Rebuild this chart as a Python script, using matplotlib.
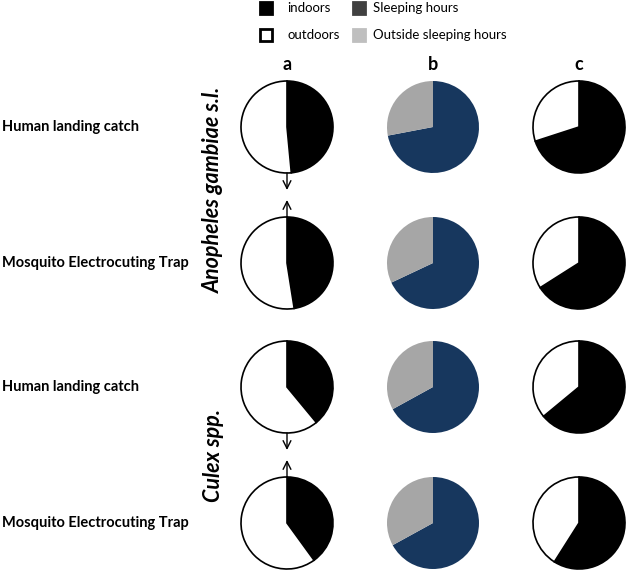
import matplotlib
matplotlib.use("Agg")
import matplotlib.pyplot as plt
from matplotlib.patches import Rectangle

plt.rcParams['font.family'] = ['Lato', 'DejaVu Sans']

# percentages
methods = ["Human landing catch", "Mosquito Electrocuting Trap",
           "Human landing catch", "Mosquito Electrocuting Trap"]
species = ["Anopheles gambiae s.l.", "Culex spp."]
indoor_a = [48.5, 47.5, 39, 40]        # a: indoors (rest outdoors)
sleeping_b = [72, 68, 67, 67]          # b: during sleeping hours
indoor_c = [70, 66, 64, 59]            # c: indoors during sleeping hours
col_labels = ["a", "b", "c"]

W, H = 638, 577
fig = plt.figure(figsize=(W / 100, H / 100), dpi=100)
ax = fig.add_axes([0, 0, 1, 1])
ax.set_xlim(0, W)
ax.set_ylim(0, H)
ax.axis('off')


def Y(y):
    return H - y


col_x = [287, 433, 579]
row_y = [127, 263, 387, 523]
r = 46

for i in range(4):
    cy = Y(row_y[i])
    ax.pie([indoor_a[i], 100 - indoor_a[i]], colors=['black', 'white'],
           startangle=90, counterclock=False, center=(col_x[0], cy), radius=r,
           frame=True, wedgeprops=dict(edgecolor='black', linewidth=1.2))
    ax.pie([sleeping_b[i], 100 - sleeping_b[i]], colors=['#17375e', '#a6a6a6'],
           startangle=90, counterclock=False, center=(col_x[1], cy), radius=r,
           frame=True, wedgeprops=dict(linewidth=0))
    ax.pie([indoor_c[i], 100 - indoor_c[i]], colors=['black', 'white'],
           startangle=90, counterclock=False, center=(col_x[2], cy), radius=r,
           frame=True, wedgeprops=dict(edgecolor='black', linewidth=1.2))
    ax.text(2, cy, methods[i], fontsize=10.5, fontweight='bold', va='center', ha='left')

ax.set_xlim(0, W)
ax.set_ylim(0, H)
ax.set_aspect('auto')

for x, lab in zip(col_x, col_labels):
    ax.text(x, Y(64), lab, fontsize=13, fontweight='bold', ha='center', va='center')

# species labels
ax.text(213, Y(190), species[0], fontsize=15.5, fontweight='bold', style='italic',
        rotation=90, ha='center', va='center')
ax.text(213, Y(455), species[1], fontsize=15.5, fontweight='bold', style='italic',
        rotation=90, ha='center', va='center')

# arrows linking the two trapping methods
for top, bot in [(row_y[0], row_y[1]), (row_y[2], row_y[3])]:
    y1 = Y(top + r)
    y2 = Y(bot - r)
    mid = (y1 + y2) / 2
    ax.annotate('', xy=(col_x[0], mid + 5), xytext=(col_x[0], y1),
                arrowprops=dict(arrowstyle='->', color='black', lw=1,
                                mutation_scale=14, shrinkA=0, shrinkB=0))
    ax.annotate('', xy=(col_x[0], mid - 5), xytext=(col_x[0], y2),
                arrowprops=dict(arrowstyle='->', color='black', lw=1,
                                mutation_scale=14, shrinkA=0, shrinkB=0))

# legend
leg = [(266, 8, 'black', 'black', 'indoors'),
       (266, 35, 'white', 'black', 'outdoors'),
       (359, 8, '#404040', '#404040', 'Sleeping hours'),
       (359, 35, '#bfbfbf', '#bfbfbf', 'Outside sleeping hours')]
for x, y, fc, ec, lab in leg:
    ax.add_patch(Rectangle((x - 6, Y(y) - 6), 12, 12, facecolor=fc, edgecolor=ec, linewidth=2))
    ax.text(x + 21 if x < 300 else x + 14, Y(y), lab, fontsize=9.5, va='center', ha='left')

fig.savefig('out.png', dpi=100)
